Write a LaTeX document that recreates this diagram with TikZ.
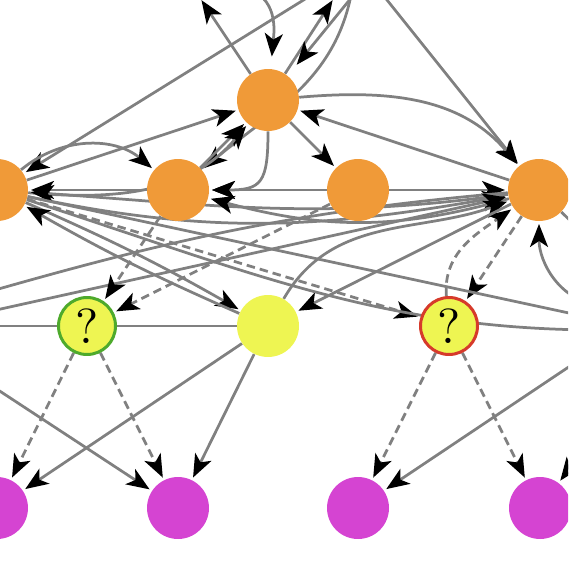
\documentclass[tikz,border=0pt]{standalone}
\usepackage{fontspec}
\usetikzlibrary{arrows.meta,backgrounds}
\newfontfamily\qfont{lmroman10-regular.otf}
\definecolor{orange}{RGB}{240,154,56}
\definecolor{yellow}{RGB}{238,245,82}
\definecolor{magenta}{RGB}{213,68,210}
\definecolor{green}{RGB}{78,170,44}
\definecolor{red}{RGB}{214,58,43}
\definecolor{edgegray}{RGB}{128,128,128}

\begin{document}
\begin{tikzpicture}[x=0.02cm, y=-0.02cm,
vert/.style={circle, inner sep=0pt, minimum size=1.24cm},
onode/.style={vert, fill=orange},
ynode/.style={vert, fill=yellow},
mnode/.style={vert, fill=magenta},
qnode/.style={vert, fill=yellow, line width=0.06cm, minimum size=1.14cm, font=\qfont\fontsize{28}{28}\selectfont},
arrow/.style={draw=edgegray, line width=0.055cm, shorten >=1.5pt, -{Stealth[color=black, length=0.46cm, width=0.36cm, inset=0.12cm]}},
darrow/.style={arrow, dash pattern=on 0.17cm off 0.1cm}]
\useasboundingbox (0,0) rectangle (568,570);
\begin{scope}
\clip (0,0) rectangle (568,570);
\node[onode] (t) at (268,100) {};
\node[onode] (l) at (-3,190) {};
\node[onode] (a) at (178,190) {};
\node[onode] (b) at (358,190) {};
\node[onode] (r) at (539,190) {};
\node[qnode, draw=green] (g) at (87,326) {?};
\node[ynode] (y) at (268,326) {};
\node[qnode, draw=red] (q) at (449,326) {?};
\node[mnode] (m1) at (-3,508) {};
\node[mnode] (m2) at (178,508) {};
\node[mnode] (m3) at (358,508) {};
\node[mnode] (m4) at (540,508) {};
\end{scope}
% ends outside the frame
\coordinate (u1) at (200,-2);
\coordinate (u2) at (250,-10);
\coordinate (u3) at (334,-2);
\coordinate (u4) at (356,-8);
\coordinate (u5) at (352,-10);
\coordinate (u6) at (310,-4);
\coordinate (u7) at (383,-5);
\coordinate (w1) at (-40,300);
\coordinate (w2) at (-40,318);
\coordinate (w3) at (-60,326);
\coordinate (w4) at (-40,365);
\coordinate (e1) at (620,330);
\coordinate (e2) at (620,324);
\coordinate (e3) at (600,346);
\coordinate (e4) at (620,400);
\coordinate (e5) at (600,305);
\coordinate (e6) at (600,250);
\begin{scope}[on background layer]
\clip (0,0) rectangle (568,570);
% top row
\draw[arrow] (t) -- (u1);
\draw[arrow, shorten >=7pt] (u2) to[out=-20,in=85] (t);
\draw[arrow] (t) -- (u3);
\draw[arrow, shorten >=8pt] (u4) -- (t);
\draw[arrow] (u5) to[out=-100,in=40] (a);
\draw[arrow] (u6) -- (l);
\draw[arrow] (u7) -- (r);
\draw[arrow] (l) -- (t);
\draw[arrow] (a) -- (t);
\draw[arrow] (l) to[out=-5,in=230] (t);
\draw[arrow] (t) to[out=5,in=130] (r);
\draw[arrow] (r) -- (t);
\draw[arrow] (t) -- (b);
\draw[arrow] (t) to[out=-90,in=0,looseness=1.6] (a);
% middle row
\draw[arrow] (l) to[bend left=40] (a);
\draw[arrow] (b) -- (a);
\draw[arrow] (a) -- (l);
\draw[arrow] (b) -- (r);
\draw[arrow] (l) to[out=-12,in=190] (r);
\draw[arrow] (r) to[out=188,in=-4] (l);
\draw[arrow] (r) to[out=196,in=-15] (a);
\draw[arrow] (r) to[out=185,in=16] (w1);
\draw[arrow] (w2) -- (r);
\draw[arrow] (y) to[out=60,in=200] (r);
\draw[darrow] (q) to[out=95,in=215] (r);
\draw[darrow] (r) -- (q);
\draw[arrow] (r) -- (y);
\draw[arrow] (e5) to[out=175,in=-90] (r);
\draw[arrow] (r) -- (e6);
\draw[arrow] (l) to[bend left=3] (y);
\draw[arrow] (y) to[bend left=3] (l);
\draw[darrow] (l) -- (q);
\draw[arrow] (l) to[out=-18,in=180] (e1);
\draw[arrow] (l) -- (e2);
\draw[darrow] (a) -- (g);
\draw[darrow] (b) -- (g);
\draw[arrow] (y) -- (w3);
% bottom row
\draw[darrow] (g) -- (m1);
\draw[darrow] (g) -- (m2);
\draw[darrow] (q) -- (m3);
\draw[darrow] (q) -- (m4);
\draw[arrow] (y) -- (m1);
\draw[arrow] (y) -- (m2);
\draw[arrow] (w4) -- (m2);
\draw[arrow] (e3) -- (m3);
\draw[arrow] (e4) -- (m4);
\end{scope}
\end{tikzpicture}
\end{document}
